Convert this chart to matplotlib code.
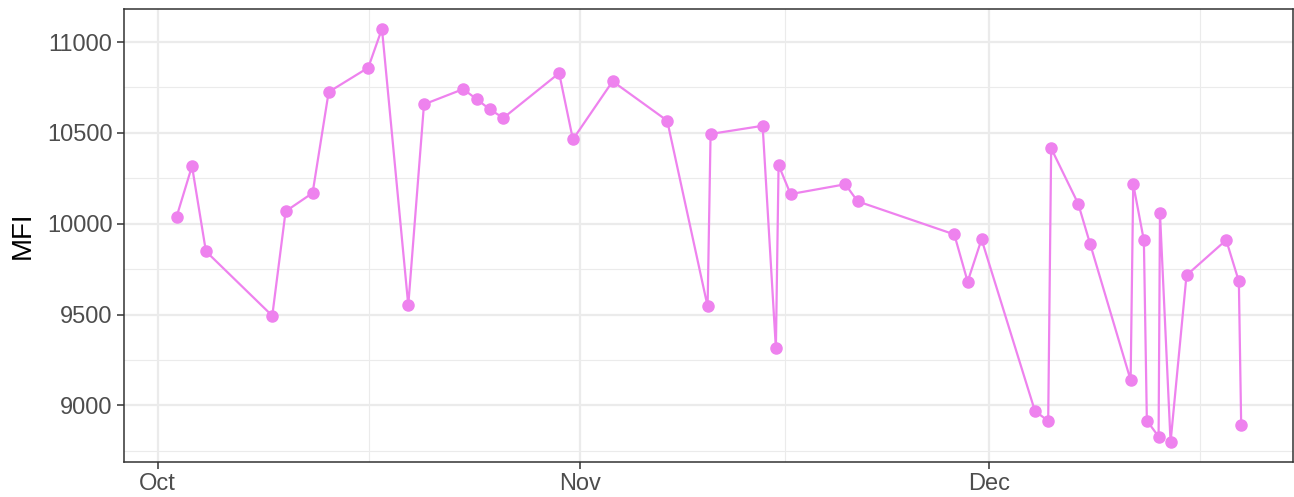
import numpy as np
import pandas as pd
import matplotlib
matplotlib.use("Agg")
import matplotlib.pyplot as plt

plt.rcParams['font.family'] = ['Liberation Sans', 'DejaVu Sans']

# time of each measurement and its MFI value
times = ["10-02 09:20", "10-03 12:30", "10-04 13:00", "10-09 09:50", "10-10 09:20",
         "10-12 08:50", "10-13 13:10", "10-16 10:50", "10-17 11:00", "10-19 09:20",
         "10-20 13:00", "10-23 10:05", "10-24 09:35", "10-25 09:10", "10-26 08:40",
         "10-30 11:00", "10-31 11:15", "11-03 09:10", "11-07 09:20", "11-10 08:25",
         "11-10 13:40", "11-14 09:20", "11-15 08:40", "11-15 13:25", "11-16 10:30",
         "11-20 10:50", "11-21 08:40", "11-28 10:50", "11-29 10:20", "11-30 10:50",
         "12-04 08:50", "12-05 08:10", "12-05 13:25", "12-07 13:00", "12-08 10:05",
         "12-11 09:20", "12-11 13:55", "12-12 08:40", "12-12 13:55", "12-13 10:35",
         "12-13 13:00", "12-14 07:40", "12-15 11:45", "12-18 09:35", "12-19 07:55",
         "12-19 12:00"]
mfi = [10038, 10317, 9848, 9493, 10068,
       10169, 10725, 10859, 11073, 9551,
       10657, 10741, 10686, 10629, 10582,
       10829, 10464, 10784, 10567, 9545,
       10494, 10539, 9314, 10323, 10163,
       10217, 10123, 9941, 9681, 9914,
       8969, 8914, 10415, 10110, 9888,
       9139, 10218, 9908, 8916, 8828,
       10059, 8798, 9716, 9910, 9683,
       8893]

month_ticks = ["2019-10-01", "2019-11-01", "2019-12-01"]
month_labels = ["Oct", "Nov", "Dec"]
minor_x = ["2019-10-16 12:00", "2019-11-16 00:00", "2019-12-16 12:00"]
y_ticks = [9000, 9500, 10000, 10500, 11000]
y_minor = [8750, 9250, 9750, 10250, 10750]

t = pd.to_datetime(["2019-" + s for s in times])

fig = plt.figure(figsize=(12.94, 4.97), dpi=100)
ax = fig.add_axes([0.0956, 0.0704, 0.9036, 0.9115])

ax.plot(t, mfi, color='#EE82EE', lw=1.6, zorder=3)
ax.plot(t, mfi, 'o', color='#EE82EE', ms=8, zorder=4)

ax.set_xlim(pd.Timestamp("2019-10-01") - pd.Timedelta(days=2.49),
            pd.Timestamp("2019-10-01") + pd.Timedelta(days=83.3))
ax.set_ylim(8688, 11182)

ax.set_xticks(pd.to_datetime(month_ticks))
ax.set_xticklabels(month_labels)
ax.set_xticks(pd.to_datetime(minor_x), minor=True)
ax.set_yticks(y_ticks)
ax.set_yticks(y_minor, minor=True)

ax.grid(True, which='major', color='#EBEBEB', lw=1.6, zorder=0)
ax.grid(True, which='minor', color='#EBEBEB', lw=0.8, zorder=0)
ax.set_axisbelow(True)

for s in ax.spines.values():
    s.set_color('#333333')
    s.set_linewidth(1.1)

ax.tick_params(which='major', length=5, width=1.1, color='#333333',
               labelcolor='#4D4D4D', labelsize=17, pad=3)
ax.tick_params(which='minor', length=0)

ax.set_ylabel('MFI', fontsize=20, color='black', labelpad=8)

fig.savefig('out.png', dpi=100)
